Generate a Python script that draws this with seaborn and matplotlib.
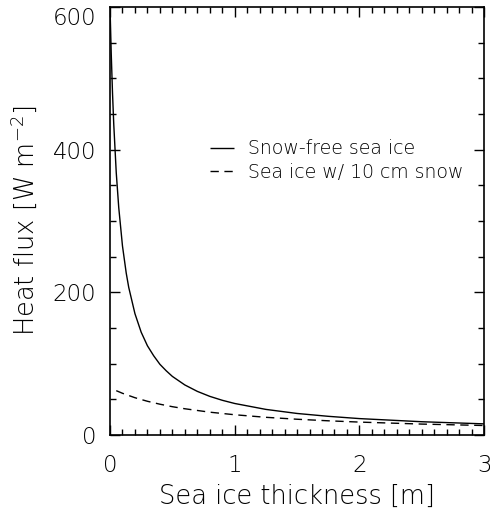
import matplotlib
matplotlib.use("Agg")
import matplotlib.pyplot as plt
import seaborn as sns
import pandas as pd
from matplotlib.ticker import MultipleLocator

# Data
thick_bare = [0.0, 0.01, 0.02, 0.03, 0.05, 0.07, 0.1, 0.13, 0.15, 0.2, 0.25,
              0.3, 0.35, 0.4, 0.45, 0.5, 0.6, 0.7, 0.8, 0.9, 1.0,
              1.25, 1.5, 1.75, 2.0, 2.5, 3.0]
flux_bare = [601, 534, 480, 436, 368, 319, 265, 227, 207, 170, 144,
             125, 111, 99, 90, 82, 70, 61, 54, 48.5, 44,
             35.7, 30, 26, 22.8, 18.4, 15.4]
thick_snow = [0.05, 0.1, 0.2, 0.3, 0.4, 0.5, 0.6, 0.8, 1.0, 1.25, 1.5,
              1.75, 2.0, 2.5, 3.0]
flux_snow = [62, 58.3, 52.1, 47.1, 43.0, 39.5, 36.6, 31.8, 28.2, 24.6, 21.9,
             19.7, 17.9, 15.1, 13.1]
labels = ["Snow-free sea ice", "Sea ice w/ 10 cm snow"]
y_ticks = [0, 200, 400, 600]
y_ticklabels = ["0", "200", "400", "600"]
x_ticks = [0, 1, 2, 3]
x_ticklabels = ["0", "1", "2", "3"]

df = pd.concat([
    pd.DataFrame({"x": thick_bare, "y": flux_bare, "case": labels[0]}),
    pd.DataFrame({"x": thick_snow, "y": flux_snow, "case": labels[1]}),
], ignore_index=True)

sns.set_style("ticks")
plt.rcParams["font.family"] = ["DejaVu Sans"]
plt.rcParams["font.weight"] = "light"
plt.rcParams["text.color"] = "black"
plt.rcParams["axes.labelcolor"] = "black"
plt.rcParams["axes.labelweight"] = "light"

fig = plt.figure(figsize=(4.90, 5.14), dpi=100)
ax = fig.add_axes([0.2245, 0.154, 0.7635, 0.832])

sns.lineplot(data=df, x="x", y="y", hue="case", style="case",
             palette=["black", "black"], dashes=[(1, 0), (6, 4)],
             linewidth=1.0, ax=ax, sort=False)

ax.set_xlim(0, 3)
ax.set_ylim(0, 600)
ax.set_xticks(x_ticks)
ax.set_xticklabels(x_ticklabels)
ax.set_yticks(y_ticks)
ax.set_yticklabels(y_ticklabels)
ax.xaxis.set_minor_locator(MultipleLocator(0.1))
ax.yaxis.set_minor_locator(MultipleLocator(50))
ax.tick_params(which="both", direction="in", top=True, right=True,
               width=1.0, colors="black", labelsize=16.5)
ax.tick_params(axis="x", which="both", pad=14)
ax.tick_params(axis="y", which="both", pad=10)
ax.tick_params(which="major", length=7)
ax.tick_params(which="minor", length=4)
for s in ax.spines.values():
    s.set_linewidth(1.2)
    s.set_color("black")

# top y tick label sits just below the axis top, as in the reference
ax.get_yticklabels()[-1].set_va("top")

ax.set_xlabel("Sea ice thickness [m]", fontsize=18.5, labelpad=5,
              fontweight="light", color="black")
ax.set_ylabel("Heat flux [W m$^{-2}$]", fontsize=18.5, labelpad=10,
              fontweight="light", color="black")

leg = ax.legend(loc="center left", bbox_to_anchor=(0.267, 0.641), frameon=False,
                fontsize=13.6, handlelength=1.3, handletextpad=0.7,
                labelspacing=0.25, borderpad=0, borderaxespad=0)
for t in leg.get_texts():
    t.set_color("black")

fig.savefig("out.png", dpi=100)
